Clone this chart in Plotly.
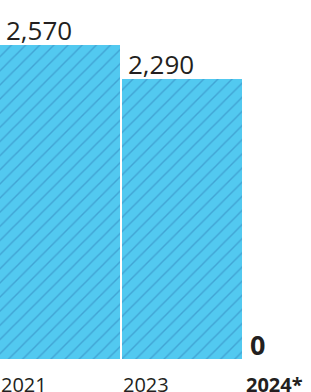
import plotly.graph_objects as go

categories = ["2021", "2023", "2024*"]
values = [2570, 2290, 0]
value_labels = ["2,570", "2,290", "0"]
positions = [0, 1, 2]

fig = go.Figure()
fig.add_trace(go.Bar(
    x=positions, y=values, width=0.98, offset=0,
    marker=dict(
        color="#52c9f0",
        line=dict(width=0),
        pattern=dict(shape="/", fgcolor="#2f7fb8", size=10, solidity=0.14, fillmode="overlay"),
    ),
    hoverinfo="skip",
))

ann = []
for p, v, lab, cat in zip(positions, values, value_labels, categories):
    bold = (v == 0)
    ann.append(dict(
        x=p, y=v, xref="x", yref="y", xanchor="left", yanchor="bottom",
        text=("<b>%s</b>" % lab) if bold else lab, showarrow=False,
        xshift=4 if not bold else 3, yshift=-5 if not bold else -6,
        font=dict(family="Open Sans", size=27 if bold else 26, color="#231f20"),
    ))
    ann.append(dict(
        x=p, y=0, xref="x", yref="y", xanchor="left", yanchor="top",
        text=("<b>%s</b>" % cat) if bold else cat, showarrow=False,
        xshift=-1, yshift=-10,
        font=dict(family="Open Sans", size=20, color="#231f20"),
    ))

fig.update_layout(
    width=311, height=392,
    margin=dict(l=0, r=0, t=0, b=33),
    paper_bgcolor="white", plot_bgcolor="white",
    showlegend=False,
    bargap=0,
    xaxis=dict(range=[0, 2.54], visible=False, fixedrange=True),
    yaxis=dict(range=[0, 2938], visible=False, fixedrange=True),
    annotations=ann,
)

fig.write_html("out.html", config={"displayModeBar": False},
               post_script="document.body.style.margin='0';document.body.style.overflow='hidden';")
